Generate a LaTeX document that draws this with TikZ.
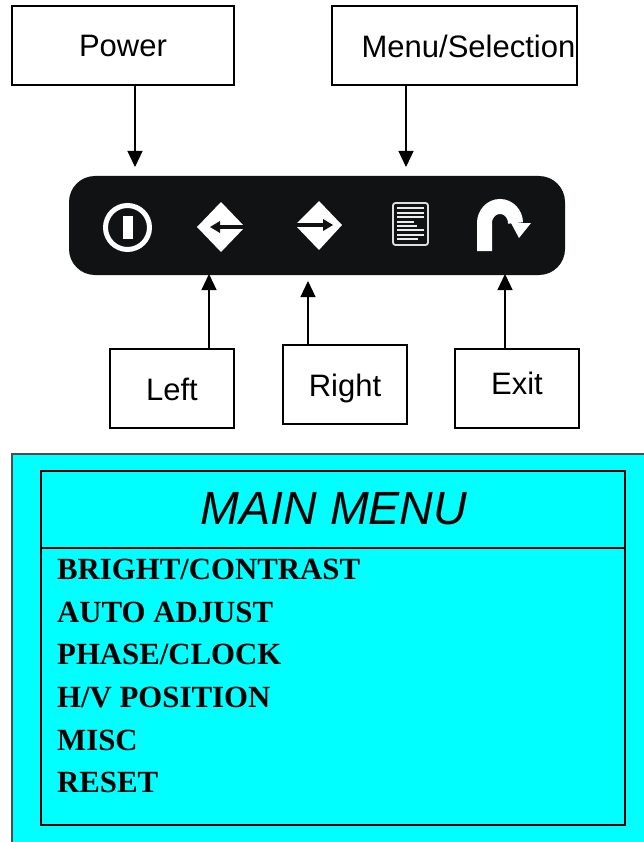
\documentclass[tikz,border=0pt]{standalone}
\usepackage{fontspec}
\setmainfont{Liberation Sans}
\newfontfamily\timesf{Liberation Serif}
\usetikzlibrary{arrows.meta,calc}
\definecolor{barc}{HTML}{101214}
\definecolor{cyanbg}{HTML}{00FFFF}
\tikzset{
  x=1pt,y=-1pt,
  labelbox/.style={draw=black,line width=1.2pt,fill=white,inner sep=0pt,text height=25pt,text depth=2pt,font=\fontsize{31}{31}\selectfont},
  conn/.style={line width=1.2pt,-{Triangle[length=16pt,width=15pt]}},
  menuitem/.style={anchor=base west,inner sep=0pt,font=\timesf\bfseries\fontsize{30.8}{31}\selectfont},
  icon/.style={inner sep=0pt,minimum size=2pt},
}
\begin{document}
\begin{tikzpicture}
\useasboundingbox (0,0) rectangle (643,842);
\fill[white] (0,0) rectangle (643,842);
% label boxes
\node[labelbox,minimum width=222pt,minimum height=79pt] (power) at (123,45.5) {Power};
\node[labelbox,minimum width=245pt,minimum height=79pt] (menu) at (454.5,45.5) {\hspace*{28pt}\raisebox{-1pt}{Menu/Selection}};
\node[labelbox,minimum width=124pt,minimum height=79pt] (left) at (172,388.5) {Left};
\node[labelbox,minimum width=124pt,minimum height=79pt] (right) at (345,384.5) {Right};
\node[labelbox,minimum width=124pt,minimum height=79pt] (exit) at (517,388.5) {\raisebox{5.5pt}{Exit}};
% button bar
\fill[barc,rounded corners=26pt] (69,176) rectangle (565,275);
\node[icon] (ipower) at (128,227) {};
\node[icon] (ileft) at (209,227) {};
\node[icon] (iright) at (308,227) {};
\node[icon] (imenu) at (406,227) {};
\node[icon] (iexit) at (505,227) {};
\coordinate (tpower) at (135,167);
\coordinate (tmenu) at (406,167);
\coordinate (tleft) at (209,274);
\coordinate (tright) at (308,281);
\coordinate (texit) at (505,274);
% power icon
\draw[white,line width=5pt] (127.5,227.5) circle (22);
\fill[white] (123,216) rectangle (133,239);
% left icon
\fill[white] (197,227) -- (221,202) -- (245,227) -- (221,252) -- cycle;
\draw[barc,line width=3.2pt] (246,227) -- (216,227);
\fill[barc] (210,227) -- (220,221) -- (220,233) -- cycle;
% right icon
\fill[white] (342,225) -- (319,201) -- (295,225) -- (319,250) -- cycle;
\draw[barc,line width=3.2pt] (294,225) -- (326,225);
\fill[barc] (333,225) -- (323,219) -- (323,231) -- cycle;
% document icon
\draw[white!75!gray,line width=1.8pt,rounded corners=2.5pt,fill=barc] (393,203) rectangle (428,245);
\foreach \yy/\xe in {208/424,213/424,217/424,222/414,226/417,230/424,235/424,239/418}
  \draw[white!85!gray,line width=2.2pt] (397,\yy) -- (\xe,\yy);
% exit icon
\draw[white,line width=15pt] (484.5,251) -- (484.5,223) arc[start angle=180,end angle=0,x radius=15.5,y radius=-16.5];
\fill[white] (511,223) -- (531,223) -- (519,238) -- cycle;
% connectors
\draw[conn] (power.south -| tpower) -- (tpower);
\draw[conn] (menu.south -| tmenu) -- (tmenu);
\draw[conn] (left.north -| tleft) -- (tleft);
\draw[conn] (right.north -| tright) -- (tright);
\draw[conn] (exit.north -| texit) -- (texit);
% main menu panel
\draw[draw=black!70,line width=1.6pt,fill=cyanbg] (12,454) rectangle (660,860);
\node[draw=black,line width=1.6pt,minimum width=584pt,minimum height=354pt,inner sep=0pt] (panel) at (333,648) {};
\node[draw=black,line width=1.2pt,minimum width=584pt,minimum height=77pt,inner sep=0pt,
  font=\itshape\fontsize{46.6}{46}\selectfont] (title) at (333,509.5) {\raisebox{2pt}{\hspace*{2pt}MAIN MENU}};
\node[menuitem] (m1) at (57,579.5) {BRIGHT/CONTRAST};
\node[menuitem] (m2) at (57,622) {AUTO ADJUST};
\node[menuitem] (m3) at (57,664) {PHASE/CLOCK};
\node[menuitem] (m4) at (57,707) {H/V POSITION};
\node[menuitem] (m5) at (57,750) {MISC};
\node[menuitem] (m6) at (57,792.5) {RESET};
\end{tikzpicture}
\end{document}
